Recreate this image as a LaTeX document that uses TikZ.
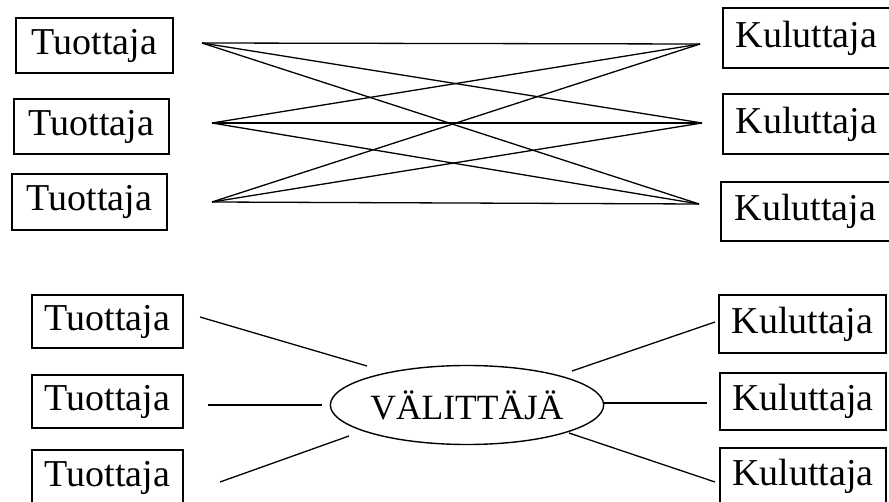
\documentclass[tikz,border=0pt]{standalone}
\usepackage{fontspec}
\setmainfont{Liberation Serif}
\usetikzlibrary{shapes.geometric}
\begin{document}
\begin{tikzpicture}[x=1pt,y=-1pt,
  boxnode/.style={draw, line width=1.6pt, inner sep=0pt, font=\fontsize{38}{40}\selectfont},
  hubnode/.style={draw, ellipse, line width=1.4pt, inner sep=0pt, minimum width=258pt, minimum height=79pt, font=\fontsize{35.5}{38}\selectfont},
  link/.style={draw, line width=1.3pt}]
\useasboundingbox (0,0) rectangle (889,502);
\clip (0,0) rectangle (889,502);
% top part
\node[boxnode, minimum width=157pt, minimum height=55pt] (tp1) at (94.5,45.5) {Tuottaja};
\node[boxnode, minimum width=155pt, minimum height=55pt] (tp2) at (91.5,126.5) {Tuottaja};
\node[boxnode, minimum width=155pt, minimum height=56pt] (tp3) at (89.5,202) {Tuottaja};
\node[boxnode, minimum width=167pt, minimum height=60pt] (tc1) at (806.5,38) {Kuluttaja};
\node[boxnode, minimum width=167pt, minimum height=60pt] (tc2) at (806.5,124) {Kuluttaja};
\node[boxnode, minimum width=169pt, minimum height=59pt] (tc3) at (805.5,211.5) {Kuluttaja};
\coordinate (l1) at (202,43);
\coordinate (l2) at (212,123);
\coordinate (l3) at (212,202);
\coordinate (r1) at (700,44);
\coordinate (r2) at (702,123);
\coordinate (r3) at (699,204);
\foreach \a in {l1,l2,l3}{\foreach \b in {r1,r2,r3}{\path[link] (\a) -- (\b);}}
% bottom part
\node[boxnode, minimum width=151pt, minimum height=53pt] (bp1) at (107.5,321.5) {Tuottaja};
\node[boxnode, minimum width=151pt, minimum height=53pt] (bp2) at (107.5,401.5) {Tuottaja};
\node[boxnode, minimum width=151pt, minimum height=55pt] (bp3) at (107.5,477.5) {Tuottaja};
\node[boxnode, minimum width=167pt, minimum height=58pt] (bc1) at (802.5,324) {Kuluttaja};
\node[boxnode, minimum width=166pt, minimum height=57pt] (bc2) at (803,401.5) {Kuluttaja};
\node[boxnode, minimum width=166pt, minimum height=57pt] (bc3) at (803,476.5) {Kuluttaja};
\node[hubnode] (hub) at (467,405) {VÄLITTÄJÄ};
\coordinate (a1) at (200,317);
\coordinate (a2) at (367,366);
\coordinate (b1) at (208,405);
\coordinate (b2) at (322,405);
\coordinate (c1) at (220,482);
\coordinate (c2) at (349,436);
\coordinate (d1) at (572,371);
\coordinate (d2) at (715,322);
\coordinate (e1) at (603,403);
\coordinate (e2) at (707,403);
\coordinate (f1) at (569,433);
\coordinate (f2) at (715,482);
\path[link] (a1) -- (a2);
\path[link] (b1) -- (b2);
\path[link] (c1) -- (c2);
\path[link] (d1) -- (d2);
\path[link] (e1) -- (e2);
\path[link] (f1) -- (f2);
\end{tikzpicture}
\end{document}
